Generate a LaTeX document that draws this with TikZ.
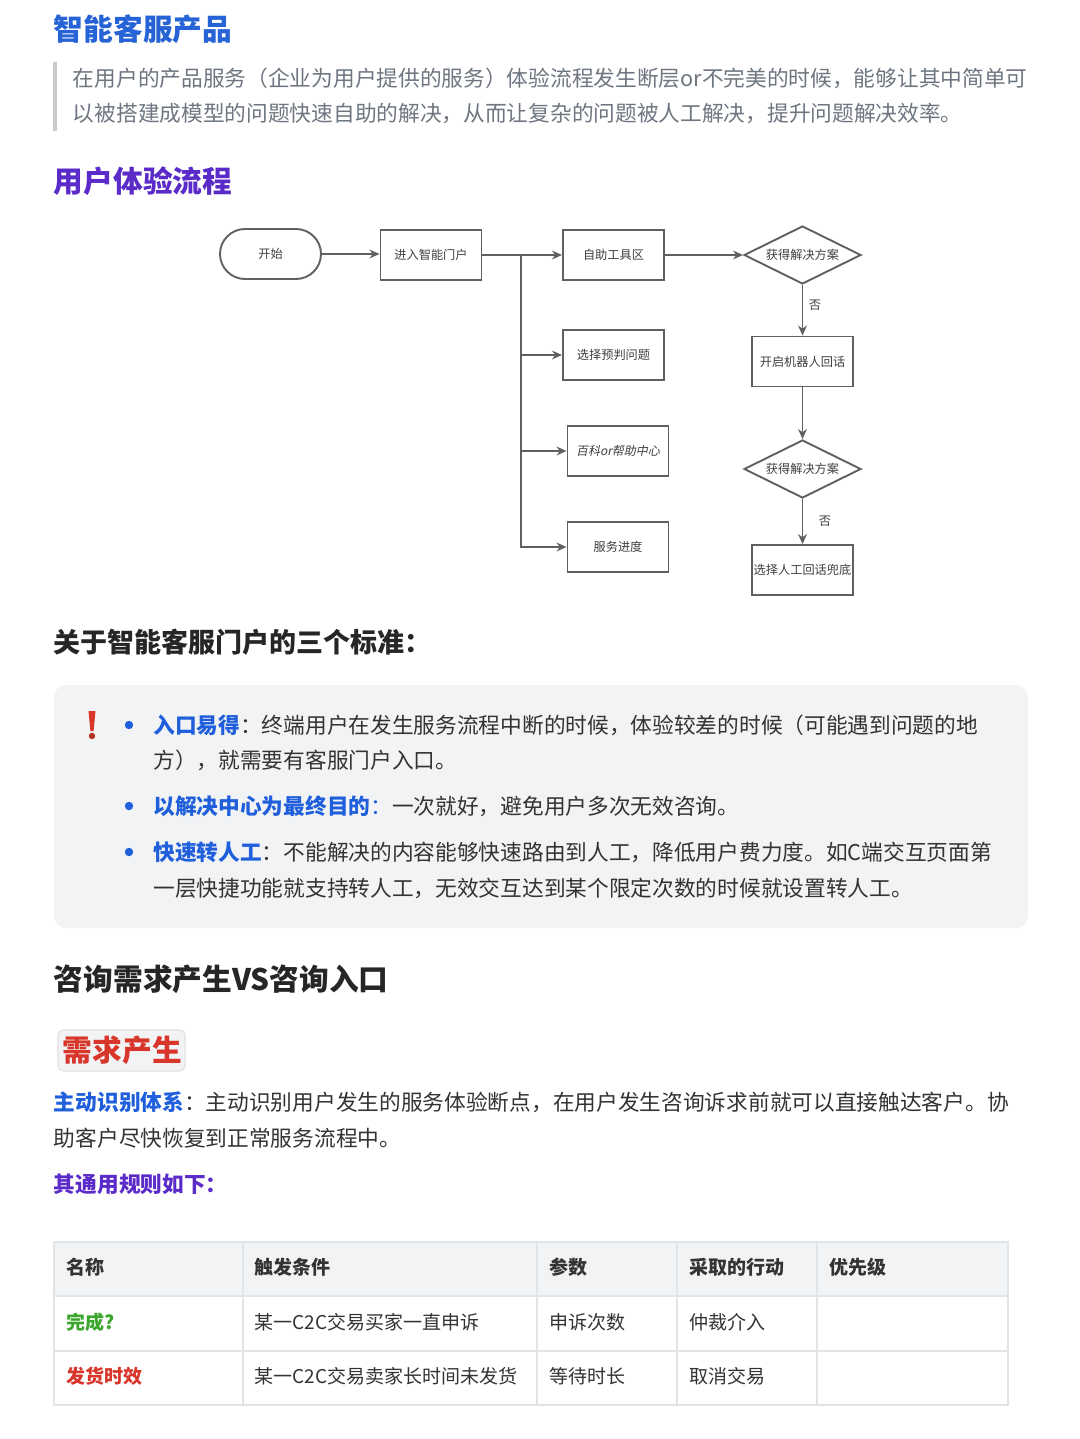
\documentclass[tikz,border=0pt]{standalone}
\usepackage{fontspec}
\setmainfont{Noto Sans CJK SC}
\newfontfamily\slantcjk{Noto Sans CJK SC}[FakeSlant=0.2]
\usetikzlibrary{arrows.meta,shapes.geometric}
\definecolor{titleblue}{HTML}{2563D6}
\definecolor{titlepurple}{HTML}{5B2BC9}
\definecolor{linkblue}{HTML}{1F5FDB}
\definecolor{alertred}{HTML}{D9362B}
\definecolor{okgreen}{HTML}{3AA62B}
\definecolor{bodytext}{HTML}{333333}
\definecolor{quotetext}{HTML}{6E7681}
\definecolor{quotebar}{HTML}{C9CBCE}
\definecolor{panel}{HTML}{F1F3F5}
\definecolor{tableline}{HTML}{E2E5E8}
\definecolor{flowline}{HTML}{606060}
\newcommand\ft[1]{\raisebox{-0.5pt}{#1}}
\tikzset{
  line/.style={inner sep=0pt,anchor=base west,text=bodytext,font=\fontsize{10.85pt}{13pt}\selectfont},
  quoteline/.style={line,text=quotetext},
  bighead/.style={inner sep=0pt,anchor=base west,font=\fontsize{14.85pt}{18pt}\selectfont\bfseries},
  midhead/.style={inner sep=0pt,anchor=base west,text=black!85,font=\fontsize{13.5pt}{16pt}\selectfont\bfseries},
  cell/.style={inner sep=0pt,anchor=base west,text=bodytext,font=\fontsize{9.5pt}{12pt}\selectfont},
  headcell/.style={cell,font=\fontsize{9.5pt}{12pt}\selectfont\bfseries},
  flowbox/.style={draw=flowline,line width=0.95pt,minimum width=50.5pt,minimum height=25pt,inner sep=0pt,text=black!75,font=\fontsize{6.1pt}{8pt}\selectfont},
  flowstart/.style={flowbox,rounded corners=12.5pt},
  flowdec/.style={diamond,draw=flowline,line width=0.95pt,minimum width=58.5pt,minimum height=29pt,inner sep=0pt,text=black!75,aspect=2,font=\fontsize{6.1pt}{8pt}\selectfont},
  flowarrow/.style={draw=flowline,line width=0.95pt,-{Stealth[length=5pt,width=4.4pt]}},
  flownote/.style={inner sep=0pt,text=black!75,font=\fontsize{6.1pt}{8pt}\selectfont},
  bulletdot/.style={fill=linkblue,draw=none},
  tablerule/.style={draw=tableline,line width=1pt},
}
\begin{document}
\begin{tikzpicture}[x=0.5pt,y=-0.5pt]
\useasboundingbox (0,0) rectangle (1080,1439);
\fill[white] (0,0) rectangle (1080,1439);
% headings and quote
\node[bighead,text=titleblue] (t1) at (53.5,41) {智能客服产品};
\fill[quotebar] (53,62) rectangle (56.5,131);
\node[quoteline] (q1) at (72.5,87) {在用户的产品服务（企业为用户提供的服务）体验流程发生断层or不完美的时候，能够让其中简单可};
\node[quoteline] (q2) at (72.5,122) {以被搭建成模型的问题快速自助的解决，从而让复杂的问题被人工解决，提升问题解决效率。};
\node[bighead,text=titlepurple] (t2) at (53.5,193) {用户体验流程};
% flow
\node[flowstart] (start) at (270.5,254) {\ft{开始}};
\node[flowbox] (portal) at (431,255) {\ft{进入智能门户}};
\node[flowbox] (tool) at (613.5,255) {\ft{自助工具区}};
\node[flowbox] (pre) at (613.5,355) {\ft{选择预判问题}};
\node[flowbox] (wiki) at (618,451) {\ft{\slantcjk\fontsize{6pt}{8pt}\selectfont 百科or帮助中心}};
\node[flowbox] (prog) at (618,547) {\ft{服务进度}};
\node[flowdec] (d1) at (802.5,255) {\ft{获得解决方案}};
\node[flowbox] (bot) at (802.5,361.5) {\ft{开启机器人回话}};
\node[flowdec] (d2) at (802.5,469) {\ft{获得解决方案}};
\node[flowbox] (human) at (802.5,570) {\ft{选择人工回话兜底}};
\node[flownote] (no1) at (815,305.5) {否};
\node[flownote] (no2) at (825,521.5) {否};
\coordinate (trunk) at (521,255);
\draw[flowarrow] (start.east) -- (start.east -| portal.west);
\draw[flowarrow] (portal) -- (tool);
\draw[flowarrow] (trunk) |- (pre.west);
\draw[flowarrow] (trunk) |- (wiki.west);
\draw[flowarrow] (trunk) |- (prog.west);
\draw[flowarrow] (tool) -- (d1);
\draw[flowarrow] (d1) -- (bot);
\draw[flowarrow] (bot) -- (d2);
\draw[flowarrow] (d2) -- (human);
% standards
\node[midhead] (t3) at (53.5,652.5) {关于智能客服门户的三个标准：};
\fill[panel,rounded corners=6pt] (54,685) rectangle (1028,928);
\fill[alertred] (88.5,711) -- (95.5,711) -- (93.6,731) -- (90.4,731) -- cycle;
\fill[alertred!85!black] (92,736) circle (3.2);
\fill[bulletdot] (129,725) circle (4.2);
\fill[bulletdot] (129,806) circle (4.2);
\fill[bulletdot] (129,852) circle (4.2);
\node[line] (b1) at (153,733) {\textbf{\textcolor{linkblue}{入口易得}}：终端用户在发生服务流程中断的时候，体验较差的时候（可能遇到问题的地};
\node[line] (b1b) at (153,768) {方），就需要有客服门户入口。};
\node[line] (b2) at (153,814) {\textbf{\textcolor{linkblue}{以解决中心为最终目的}}\textcolor{linkblue}{：}一次就好，避免用户多次无效咨询。};
\node[line] (b3) at (153,860) {\textbf{\textcolor{linkblue}{快速转人工}}：不能解决的内容能够快速路由到人工，降低用户费力度。如C端交互页面第};
\node[line] (b3b) at (153,896) {一层快捷功能就支持转人工，无效交互达到某个限定次数的时候就设置转人工。};
% demand
\node[bighead,text=black!85] (t4) at (53.5,990) {咨询需求产生VS咨询入口};
\draw[fill=panel,draw=black!12,line width=0.6pt,rounded corners=3pt] (58,1030) rectangle (185,1071);
\node[bighead,text=alertred] (t5) at (62.5,1061) {需求产生};
\node[line] (p1) at (53.5,1110) {\textbf{\textcolor{linkblue}{主动识别体系}}：主动识别用户发生的服务体验断点，在用户发生咨询诉求前就可以直接触达客户。协};
\node[line] (p2) at (53.5,1146) {助客户尽快恢复到正常服务流程中。};
\node[line,text=titlepurple,font=\fontsize{10.85pt}{13pt}\selectfont\bfseries] (p3) at (53.5,1192) {其通用规则如下：};
% table
\fill[panel] (54,1242) rectangle (1008,1296);
\draw[tablerule] (54,1242) rectangle (1008,1405);
\draw[tablerule] (54,1296) -- (1008,1296);
\draw[tablerule] (54,1351) -- (1008,1351);
\draw[tablerule] (243,1242) -- (243,1405);
\draw[tablerule] (537,1242) -- (537,1405);
\draw[tablerule] (677,1242) -- (677,1405);
\draw[tablerule] (817,1242) -- (817,1405);
\node[headcell] (h1) at (66,1274) {名称};
\node[headcell] (h2) at (254,1274) {触发条件};
\node[headcell] (h3) at (549,1274) {参数};
\node[headcell] (h4) at (689,1274) {采取的行动};
\node[headcell] (h5) at (829,1274) {优先级};
\node[headcell,text=okgreen] (r1a) at (66,1329) {完成?};
\node[cell] (r1b) at (254,1329) {某一C2C交易买家一直申诉};
\node[cell] (r1c) at (549,1329) {申诉次数};
\node[cell] (r1d) at (689,1329) {仲裁介入};
\node[headcell,text=alertred] (r2a) at (66,1383) {发货时效};
\node[cell] (r2b) at (254,1383) {某一C2C交易卖家长时间未发货};
\node[cell] (r2c) at (549,1383) {等待时长};
\node[cell] (r2d) at (689,1383) {取消交易};
\end{tikzpicture}
\end{document}
